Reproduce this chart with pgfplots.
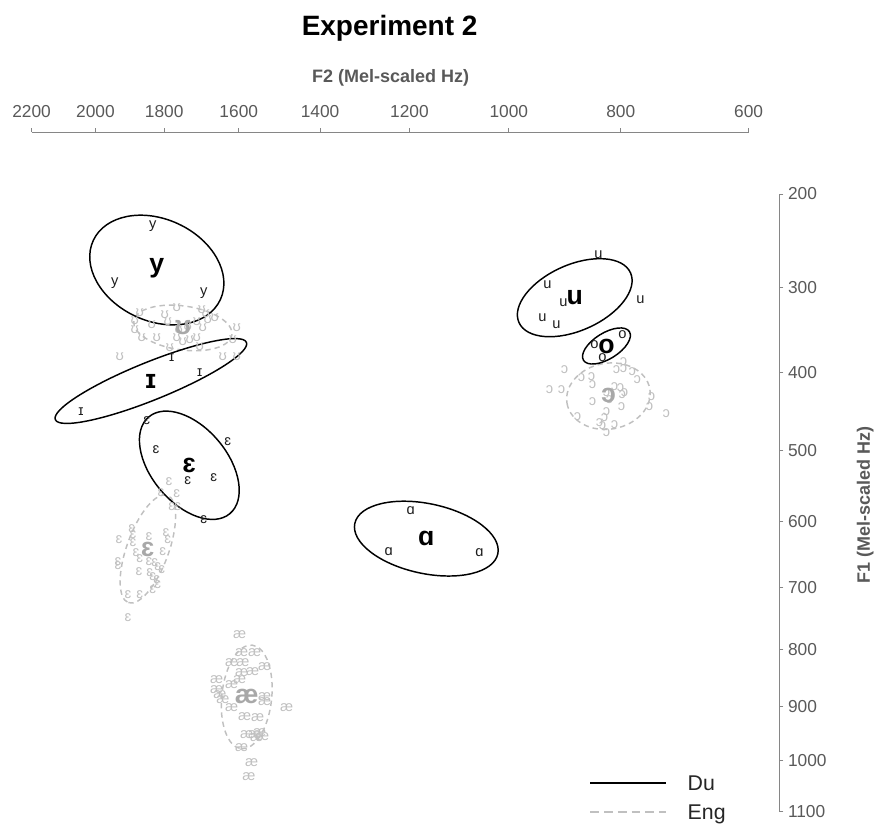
\documentclass[border=0pt]{standalone}
\usepackage{fontspec}
\setmainfont{Liberation Sans}
\usepackage{pgfplots}
\pgfplotsset{compat=1.18}
\definecolor{axgray}{HTML}{868686}
\definecolor{lblgray}{HTML}{595959}
\definecolor{enggray}{HTML}{C0C0C0}
\definecolor{engmean}{HTML}{A8A8A8}
\definecolor{dutext}{HTML}{1E1E1E}
\pgfplotsset{
  ipasmall/.style n args={2}{only marks, mark=text, text mark={#1}, text mark as node=true, color=#2,
    text mark style={font=\fontsize{11}{13}\selectfont, text=#2, inner sep=0pt, anchor=center}},
  ipamean/.style n args={2}{only marks, mark=text, text mark={#1}, text mark as node=true, color=#2,
    text mark style={font=\fontsize{20}{22}\selectfont\bfseries, text=#2, inner sep=0pt, anchor=center}},
}
\tikzset{
  du/.style={draw=black, line width=1.1pt},
  en/.style={draw=enggray, line width=1.1pt, dash pattern=on 4pt off 3pt},
}
\begin{document}
\begin{tikzpicture}
\begin{axis}[
  scale only axis, width=561.2pt, height=510pt,
  x dir=reverse, y dir=reverse,
  xmin=658.9, xmax=1601.9, ymin=204.8, ymax=1064.4,
  separate axis lines,
  axis line style={draw=none},
  xtick={697.65,858.93,999.99,1125.34,1238.13,1340.66,1434.63,1521.36,1601.9},
  xticklabels={600,800,1000,1200,1400,1600,1800,2000,2200},
  ytick={283.23,401.97,509.39,607.45,697.65,781.17,858.93,931.66,999.99,1064.40},
  yticklabels={200,300,400,500,600,700,800,900,1000,1100},
  xtick pos=right, ytick pos=right,
  tick align=outside, major tick length=3pt,
  tick style={axgray, line width=0.75pt},
  ticklabel style={font=\fontsize{13}{15}\selectfont, text=lblgray},
  xticklabel shift=4.5pt,
  /pgf/number format/assume math mode=true,
  clip=false,
]
% bounding frame of the picture
\path (axis cs:1641.8,37.8) rectangle (axis cs:535.5,1084.0);
% axis lines
\draw[axgray, line width=0.75pt] (axis cs:1601.9,204.8) -- (axis cs:697.65,204.8);
\draw[axgray, line width=0.75pt] (axis cs:658.9,283.23) -- (axis cs:658.9,1064.4);

% ---------- English tokens ----------
\addplot[ipasmall={ʊ}{enggray}] table {
1465.4 433.7
1471.7 443.9
1450.3 448.9
1433.9 436.3
1430.1 445.1
1418.8 427.4
1416.2 455.3
1404.9 451.5
1393.6 445.1
1387.3 430.0
1382.2 435.0
1379.7 442.6
1370.9 440.1
1386.0 452.7
1343.2 452.7
1462.9 465.4
1444.0 465.4
1418.8 465.4
1411.2 470.4
1402.4 467.9
1393.6 465.4
1427.6 478.0
1389.8 476.8
1348.2 467.9
1490.6 489.4
1360.8 489.4
1343.2 489.4
1471.7 455.3
};
\addplot[ipasmall={ɛ}{enggray}] table {
1428.8 647.5
1438.9 661.4
1418.8 662.7
1425.1 679.2
1417.5 679.2
1475.5 707.0
1474.2 714.6
1491.8 720.9
1474.2 724.7
1454.0 717.1
1432.6 712.0
1430.1 720.9
1436.4 736.1
1470.4 737.3
1465.4 744.9
1493.1 748.7
1493.1 753.8
1454.0 748.7
1446.5 750.0
1442.7 755.1
1437.7 758.9
1466.6 761.4
1452.8 762.6
1449.0 767.7
1444.0 771.5
1442.7 777.8
1480.5 790.5
1465.4 790.5
1449.0 784.2
1480.5 819.6
};
\addplot[ipasmall={æ}{enggray}] table {
1339.4 841.1
1336.9 863.8
1320.5 863.8
1349.5 876.5
1335.6 876.5
1323.0 887.9
1307.9 881.6
1336.9 889.1
1339.4 898.0
1368.4 898.0
1349.5 904.3
1368.4 910.7
1364.6 917.0
1360.8 923.3
1349.5 933.4
1307.9 919.5
1307.9 925.8
1280.2 933.4
1333.1 944.8
1316.7 946.1
1330.6 967.6
1320.5 967.6
1314.2 965.0
1310.4 970.1
1336.9 984.0
1324.3 1003.0
1328.0 1020.7
1318.0 971.4
};
\addplot[ipasmall={ɔ}{enggray}] table {
855.5 495.7
864.3 505.9
855.5 504.6
844.2 508.4
837.9 518.5
929.8 505.9
908.4 516.0
895.8 514.7
894.6 524.8
948.7 531.2
933.6 531.2
866.8 527.4
859.3 528.6
854.2 534.9
856.8 537.5
876.9 534.9
894.6 546.3
873.1 543.8
858.0 552.7
820.2 540.0
822.7 552.7
801.3 561.5
876.9 559.0
879.4 566.6
913.5 565.3
885.7 572.9
882.0 576.7
866.8 575.4
876.9 585.5
};
% English ellipses
\draw[en, rotate around={-8:(axis cs:1411.2,452.7)}] (axis cs:1411.2,452.7) ellipse [x radius=62.5, y radius=27.8];
\draw[en, rotate around={70:(axis cs:1455.3,732.3)}] (axis cs:1455.3,732.3) ellipse [x radius=72, y radius=26.5];
\draw[en, rotate around={84:(axis cs:1330.6,919.5)}] (axis cs:1330.6,919.5) ellipse [x radius=65.7, y radius=31.6];
\draw[en, rotate around={10:(axis cs:874.4,539.0)}] (axis cs:874.4,539.0) ellipse [x radius=53, y radius=41.7];
% English means
\addplot[ipamean={ʊ}{engmean}] table {
1411.2 452.7
};
\addplot[ipamean={ɛ}{engmean}] table {
1455.3 732.3
};
\addplot[ipamean={æ}{engmean}] table {
1330.6 919.5
};
\addplot[ipamean={ɔ}{engmean}] table {
874.4 537.5
};

% ---------- Dutch ellipses ----------
\draw[du, rotate around={-25:(axis cs:1444.0,379.4)}] (axis cs:1444.0,379.4) ellipse [x radius=88.4, y radius=64.4];
\draw[du, rotate around={22:(axis cs:1451.5,519.8)}] (axis cs:1451.5,519.8) ellipse [x radius=130, y radius=24];
\draw[du, rotate around={-50:(axis cs:1403.0,626.4)}] (axis cs:1403.0,626.4) ellipse [x radius=79.6, y radius=48];
\draw[du, rotate around={-12:(axis cs:1104.1,719.2)}] (axis cs:1104.1,719.2) ellipse [x radius=92.2, y radius=44.2];
\draw[du, rotate around={24:(axis cs:916.9,414.4)}] (axis cs:916.9,414.4) ellipse [x radius=77, y radius=41.7];
\draw[du, rotate around={32:(axis cs:876.9,475.5)}] (axis cs:876.9,475.5) ellipse [x radius=34.1, y radius=16.4];

% ---------- Dutch tokens ----------
\addplot[ipasmall={y}{dutext}] table {
1449.0 323.7
1496.9 395.8
1384.7 408.4
};
\addplot[ipasmall={ɪ}{dutext}] table {
1425.1 490.7
1389.8 509.6
1539.7 559.0
};
\addplot[ipasmall={ɛ}{dutext}] table {
1456.6 570.4
1445.2 607.1
1354.5 596.9
1404.9 646.3
1372.1 642.5
1384.7 695.6
};
\addplot[ipasmall={ɑ}{dutext}] table {
1123.9 684.2
1151.6 736.1
1037.0 737.3
};
\addplot[ipasmall={u}{dutext}] table {
887.0 360.4
951.3 398.3
931.1 421.1
957.6 440.1
939.9 448.9
834.1 417.3
};
\addplot[ipasmall={o}{dutext}] table {
892.0 474.2
856.8 461.6
882.0 490.7
};
% Dutch means
\addplot[ipamean={y}{black}] table {
1444.0 376.8
};
\addplot[ipamean={ɪ}{black}] table {
1451.5 519.8
};
\addplot[ipamean={ɛ}{black}] table {
1403.0 626.4
};
\addplot[ipamean={ɑ}{black}] table {
1104.1 719.2
};
\addplot[ipamean={u}{black}] table {
916.9 414.4
};
\addplot[ipamean={o}{black}] table {
876.9 475.5
};

% titles
\node[anchor=base, font=\fontsize{21}{25}\selectfont\bfseries] at (axis cs:1150.4,83.3) {Experiment 2};
\node[anchor=base, font=\fontsize{13.5}{16}\selectfont\bfseries, text=lblgray] at (axis cs:1149.1,142.8) {F2 (Mel-scaled Hz)};
\node[rotate=90, anchor=center, font=\fontsize{13.5}{16}\selectfont\bfseries, text=lblgray] at (axis cs:550.6,676.6) {F1 (Mel-scaled Hz)};

% legend
\draw[black, line width=2pt] (axis cs:897.1,1028.3) -- (axis cs:801.3,1028.3);
\node[anchor=base west, inner sep=0pt, font=\fontsize{16}{18}\selectfont, text=black!85] at ([yshift=-5.6pt]axis cs:774.8,1028.3) {Du};
\draw[enggray, line width=2pt, dash pattern=on 6.5pt off 3.8pt] (axis cs:897.1,1065.0) -- (axis cs:801.3,1065.0);
\node[anchor=base west, inner sep=0pt, font=\fontsize{16}{18}\selectfont, text=black!85] at ([yshift=-5.6pt]axis cs:774.8,1065.0) {Eng};
\end{axis}
\end{tikzpicture}
\end{document}
